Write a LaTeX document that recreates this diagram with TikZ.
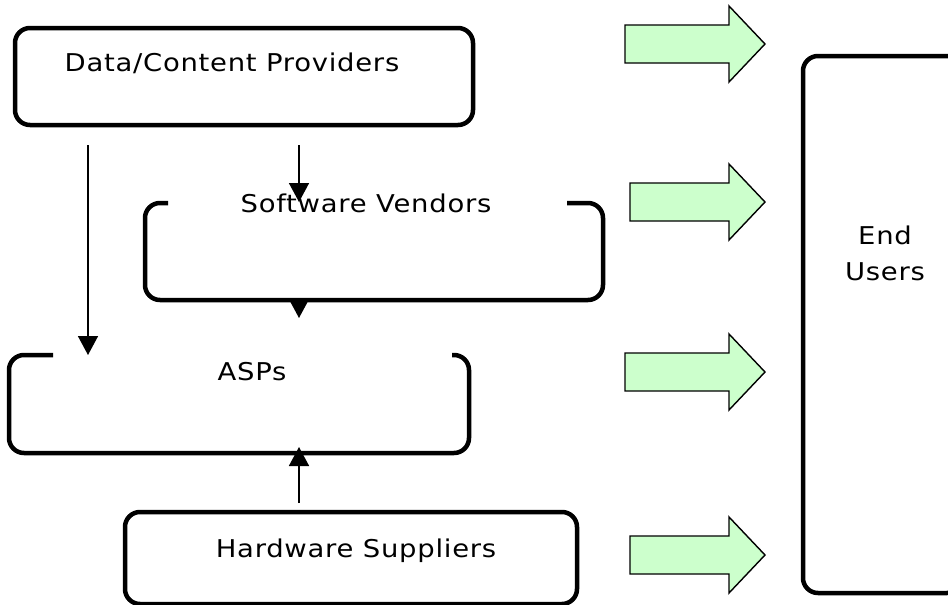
\documentclass[tikz,border=0pt]{standalone}
\usepackage{fontspec}
\setmainfont{DejaVu Sans}[FakeStretch=1.12, LetterSpace=3]
\usetikzlibrary{arrows.meta}
\definecolor{arrowgreen}{HTML}{CCFFCC}

% block arrow pointing right: tip x, tip y, tail x
\newcommand\fatarrow[3]{%
  \draw[fat] (#3,{#2-19}) -- ({#1-36},{#2-19}) -- ({#1-36},{#2-38})
    -- (#1,#2) -- ({#1-36},{#2+38}) -- ({#1-36},{#2+19}) -- (#3,{#2+19}) -- cycle;}

\begin{document}
\begin{tikzpicture}[x=1pt,y=-1pt,
  box/.style={line width=4.5pt, rounded corners=15pt},
  flow/.style={line width=1.6pt, -{Triangle[width=20pt,length=19pt]}},
  lbl/.style={inner sep=0pt, anchor=base, font=\fontsize{24.5}{30}\selectfont},
  fat/.style={fill=arrowgreen, draw=black, line width=1.4pt, line join=miter}]
\useasboundingbox (0,0) rectangle (948,605);

% Data/Content Providers
\draw[box] (15,28) rectangle (473,125);
\node[lbl] (dcp) at (232,71) {Data/Content Providers};

% Software Vendors (top edge open around the label)
\draw[box] (168,203) -- (145,203) -- (145,300) -- (603,300) -- (603,203) -- (567,203);
\node[lbl] (sv) at (366,212) {Software Vendors};

% ASPs (top edge open)
\draw[box] (53,355) -- (9,355) -- (9,453) -- (469,453) -- (469,355) -- (452,355);
\node[lbl] (asp) at (252,380) {ASPs};

% Hardware Suppliers
\draw[box] (125,512) rectangle (577,604);
\node[lbl] (hw) at (356,557) {Hardware Suppliers};

% End Users
\draw[box] (803,56) rectangle (962,593);
\node[lbl] (eu1) at (885,244) {End};
\node[lbl] (eu2) at (885,280) {Users};

% connectors
\coordinate (dcpOutL) at (88,145);
\coordinate (aspInL) at (88,355);
\coordinate (dcpOutR) at (299,145);
\coordinate (svIn) at (299,202);
\coordinate (svOut) at (299,300);
\coordinate (svTip) at (299,318);
\coordinate (hwOut) at (299,503);
\coordinate (aspInB) at (299,447);
\draw[flow] (dcpOutL) -- (aspInL);
\draw[flow] (dcpOutR) -- (svIn);
\draw[flow] (svOut) -- (svTip);
\draw[flow] (hwOut) -- (aspInB);

% block arrows towards the end users
\fatarrow{765}{44}{625}
\fatarrow{765}{202}{630}
\fatarrow{765}{372}{625}
\fatarrow{765}{555}{630}
\end{tikzpicture}
\end{document}
